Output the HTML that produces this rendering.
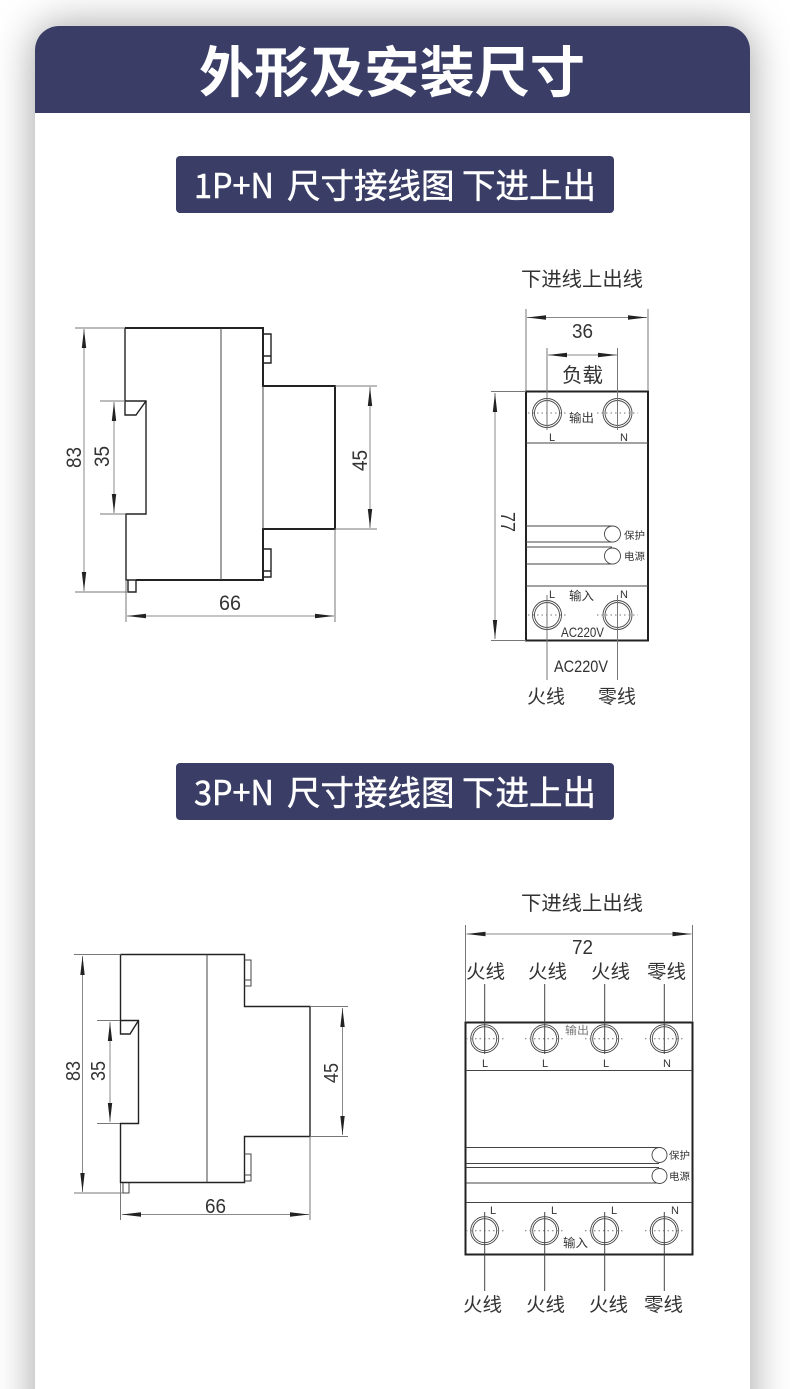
<!DOCTYPE html>
<html>
<head>
<meta charset="utf-8">
<style>
html,body{margin:0;padding:0;background:#fff;width:790px;height:1389px;overflow:hidden}
.wrap{position:absolute;left:0;top:0;width:790px;height:1389px;overflow:hidden;background:#fff}
.card{position:absolute;left:35px;top:26px;width:715px;height:1420px;background:#fff;border-radius:24px 24px 0 0;box-shadow:0 0 42px rgba(0,0,0,.38)}
svg{position:absolute;left:0;top:0}
text{font-family:"Liberation Sans","Noto Sans CJK SC",sans-serif;fill:#333}
.h{font-family:"Noto Sans CJK SC",sans-serif;fill:#fff}
.s{stroke:#fff;stroke-width:.5}
.k{stroke:#222;stroke-width:1.4;fill:none}
.b{stroke:#222;stroke-width:2;fill:none}
.t{stroke:#444;stroke-width:1;fill:none}
.g{stroke:#777;stroke-width:1;fill:none}
.d{stroke:#888;stroke-width:1;fill:none;marker-start:url(#a);marker-end:url(#a)}
.c{stroke:#444;stroke-width:.9;fill:#fff}
.p{stroke:#777;stroke-width:1;stroke-dasharray:1.5 3;fill:none}
</style>
</head>
<body>
<div class="wrap">
<div class="card"></div>
<svg width="790" height="1389" viewBox="0 0 790 1389" xmlns="http://www.w3.org/2000/svg">
<defs>
<marker id="a" markerUnits="userSpaceOnUse" markerWidth="20" markerHeight="6" refX="19" refY="3" orient="auto-start-reverse">
<path d="M19 3L0 .8V5.200Z" fill="#222"/>
</marker>
</defs>

<!-- Header -->
<path d="M35 113V50a24 24 0 0 1 24-24H726a24 24 0 0 1 24 24V113Z" fill="#3a3e66"/>
<text class="h" x="199" y="92" font-size="55" font-weight="700" textLength="386" lengthAdjust="spacingAndGlyphs">外形及安装尺寸</text>

<rect x="176" y="156" width="438" height="57" rx="4" fill="#3a3e66"/>
<text class="h s" x="194" y="198" font-size="34" textLength="80" lengthAdjust="spacingAndGlyphs">1P+N</text>
<text class="h s" x="287" y="198" font-size="34" textLength="309" lengthAdjust="spacingAndGlyphs">尺寸接线图 下进上出</text>

<rect x="176" y="763" width="438" height="57" rx="4" fill="#3a3e66"/>
<text class="h s" x="194" y="805" font-size="34" textLength="80" lengthAdjust="spacingAndGlyphs">3P+N</text>
<text class="h s" x="287" y="805" font-size="34" textLength="309" lengthAdjust="spacingAndGlyphs">尺寸接线图 下进上出</text>

<!-- 1P side view -->
<g>
<path class="b" d="M125 328H263V386H335V529H263V580H136"/>
<path class="k" d="M125 328V401H146V514H126V580H136M125 401V415H136L146 401"/>
<path class="t" d="M221 328V580M263 386V529"/>
<path class="k" d="M263 334H271V363H263M263 356H271M263 549H271V577H263M263 571H271M128 580V592H136V580"/>
<path class="g" d="M75 328H125M75 592H128M100 401H125M100 514H125M335 386H377M335 529H377M126 580V622M335 529V622"/>
<path class="d" d="M84 329V591"/>
<path class="d" d="M114 402V513"/>
<path class="d" d="M370 387V528"/>
<path class="d" d="M127 616H334"/>
<text font-size="21" transform="translate(81 468) rotate(-90)" textLength="21" lengthAdjust="spacingAndGlyphs">83</text>
<text font-size="21" transform="translate(109 467) rotate(-90)" textLength="21" lengthAdjust="spacingAndGlyphs">35</text>
<text font-size="21" transform="translate(367 471) rotate(-90)" textLength="21" lengthAdjust="spacingAndGlyphs">45</text>
<text x="219" y="610" font-size="21" textLength="22" lengthAdjust="spacingAndGlyphs">66</text>
</g>

<!-- 1P front view -->
<g>
<text x="521" y="286" font-size="20" textLength="122" lengthAdjust="spacingAndGlyphs">下进线上出线</text>
<rect class="b" x="526" y="391.500" width="122" height="249"/>
<path class="t" d="M526 443H648M526 586H648"/>
<path class="t" d="M526 526H612M526 542H612M526 547H612M526 564H612"/>
<circle class="c" cx="612.500" cy="534" r="8"/>
<circle class="c" cx="612.500" cy="556" r="8"/>
<path class="g" d="M526 309V391M648 309V391M491 391.500H526M491 640.500H526"/>
<path class="d" d="M527 317.500H647"/>
<path class="d" d="M548 355H617"/>
<path class="d" d="M495 393V639"/>
<circle class="c" cx="547" cy="413" r="14.500"/><circle class="c" cx="547" cy="413" r="12.500"/>
<circle class="c" cx="617.500" cy="413" r="14.500"/><circle class="c" cx="617.500" cy="413" r="12.500"/>
<circle class="c" cx="547" cy="615" r="14.500"/><circle class="c" cx="547" cy="615" r="12.500"/>
<circle class="c" cx="617.500" cy="615" r="14.500"/><circle class="c" cx="617.500" cy="615" r="12.500"/>
<path class="p" d="M528 413H568M597 413H638M528 615H568M597 615H638"/>
<path class="g" d="M547 348V430M617.500 348V430M547 595V680M617.500 595V680"/>
<text x="572" y="338" font-size="20" textLength="21" lengthAdjust="spacingAndGlyphs">36</text>
<text x="562" y="382" font-size="20" textLength="41" lengthAdjust="spacingAndGlyphs">负载</text>
<text x="569" y="422" font-size="12" textLength="25" lengthAdjust="spacingAndGlyphs">输出</text>
<text x="549" y="441" font-size="11">L</text>
<text x="620" y="441" font-size="11">N</text>
<text x="624" y="539" font-size="10" textLength="21" lengthAdjust="spacingAndGlyphs">保护</text>
<text x="624" y="560" font-size="10" textLength="21" lengthAdjust="spacingAndGlyphs">电源</text>
<text x="569" y="600" font-size="12" textLength="25" lengthAdjust="spacingAndGlyphs">输入</text>
<text x="549" y="598" font-size="11">L</text>
<text x="620" y="598" font-size="11">N</text>
<text x="561" y="637" font-size="14" textLength="43" lengthAdjust="spacingAndGlyphs">AC220V</text>
<text x="554" y="672" font-size="17" textLength="54" lengthAdjust="spacingAndGlyphs">AC220V</text>
<text x="527" y="703" font-size="19" textLength="38" lengthAdjust="spacingAndGlyphs">火线</text>
<text x="598" y="703" font-size="19" textLength="38" lengthAdjust="spacingAndGlyphs">零线</text>
<text font-size="20" transform="translate(501 512) rotate(90)" textLength="20" lengthAdjust="spacingAndGlyphs">77</text>
</g>

<!-- 3P side view -->
<g>
<path class="k" d="M120.500 954.500H244.500V1006.500H310V1136.500H244.500V1182.500H129"/>
<path class="k" d="M120.500 954.500V1020.500H138.500V1123.500H120.500V1182.500H129M120.500 1020.500V1034H130L138.500 1020.500"/>
<path class="t" d="M207 954.500V1182.500"/>
<path class="t" d="M244.500 960H251V986H244.500M244.500 980H251M244.500 1154H251V1181H244.500M244.500 1175H251M123 1183V1193H129V1183"/>
<path class="g" d="M74 954.500H120M74 1193H123M97 1020.500H120M97 1123.500H120M310 1006.500H348M310 1136.500H348M120.500 1183V1220M310 1136.500V1220"/>
<path class="d" d="M82.500 956V1192"/>
<path class="d" d="M110 1022V1122"/>
<path class="d" d="M342.500 1008V1135"/>
<path class="d" d="M122 1214.500H309"/>
<text font-size="20" transform="translate(80 1081) rotate(-90)" textLength="20" lengthAdjust="spacingAndGlyphs">83</text>
<text font-size="20" transform="translate(105 1081) rotate(-90)" textLength="20" lengthAdjust="spacingAndGlyphs">35</text>
<text font-size="20" transform="translate(338 1083) rotate(-90)" textLength="20" lengthAdjust="spacingAndGlyphs">45</text>
<text x="205" y="1213" font-size="20" textLength="21" lengthAdjust="spacingAndGlyphs">66</text>
</g>

<!-- 3P front view -->
<g>
<text x="521" y="910" font-size="20" textLength="122" lengthAdjust="spacingAndGlyphs">下进线上出线</text>
<rect class="b" x="465.500" y="1022.500" width="227" height="232"/>
<path class="t" d="M466 1070.500H692M466 1202.500H692"/>
<path class="t" d="M466 1147.500H659M466 1163.500H659M466 1167.500H659M466 1183H659"/>
<circle class="c" cx="659.500" cy="1155" r="7.500"/>
<circle class="c" cx="659.500" cy="1176" r="7.500"/>
<path class="g" d="M465.500 925V1022M692.500 925V1022"/>
<path class="d" d="M466.500 934H691.500"/>

<g>
<circle class="c" cx="484.700" cy="1038.700" r="14"/><circle class="c" cx="484.700" cy="1038.700" r="12"/>
<circle class="c" cx="544.700" cy="1038.700" r="14"/><circle class="c" cx="544.700" cy="1038.700" r="12"/>
<circle class="c" cx="604.700" cy="1038.700" r="14"/><circle class="c" cx="604.700" cy="1038.700" r="12"/>
<circle class="c" cx="664.300" cy="1038.700" r="14"/><circle class="c" cx="664.300" cy="1038.700" r="12"/>
<circle class="c" cx="484.700" cy="1230.700" r="14"/><circle class="c" cx="484.700" cy="1230.700" r="12"/>
<circle class="c" cx="544.700" cy="1230.700" r="14"/><circle class="c" cx="544.700" cy="1230.700" r="12"/>
<circle class="c" cx="604.700" cy="1230.700" r="14"/><circle class="c" cx="604.700" cy="1230.700" r="12"/>
<circle class="c" cx="664.300" cy="1230.700" r="14"/><circle class="c" cx="664.300" cy="1230.700" r="12"/>
</g>
<path class="p" d="M466 1038.700H505M525 1038.700H565M585 1038.700H625M645 1038.700H685M466 1230.700H505M525 1230.700H565M585 1230.700H625M645 1230.700H685"/>
<path class="t" d="M484.700 984V1054M544.700 984V1054M604.700 984V1054M664.300 984V1054M484.700 1212V1291M544.700 1212V1291M604.700 1212V1291M664.300 1212V1291"/>

<text x="572" y="954" font-size="20" textLength="21" lengthAdjust="spacingAndGlyphs">72</text>
<text x="466" y="978" font-size="19" textLength="39" lengthAdjust="spacingAndGlyphs">火线</text>
<text x="528" y="978" font-size="19" textLength="39" lengthAdjust="spacingAndGlyphs">火线</text>
<text x="591" y="978" font-size="19" textLength="39" lengthAdjust="spacingAndGlyphs">火线</text>
<text x="647" y="978" font-size="19" textLength="39" lengthAdjust="spacingAndGlyphs">零线</text>
<text x="565" y="1034" font-size="11" textLength="24" lengthAdjust="spacingAndGlyphs" style="fill:#777">输出</text>
<text x="482" y="1067" font-size="11">L</text>
<text x="542" y="1067" font-size="11">L</text>
<text x="603" y="1067" font-size="11">L</text>
<text x="663" y="1067" font-size="11">N</text>
<text x="669" y="1159" font-size="10" textLength="21" lengthAdjust="spacingAndGlyphs">保护</text>
<text x="669" y="1180" font-size="10" textLength="21" lengthAdjust="spacingAndGlyphs">电源</text>
<text x="490" y="1214" font-size="11">L</text>
<text x="551" y="1214" font-size="11">L</text>
<text x="611" y="1214" font-size="11">L</text>
<text x="671" y="1214" font-size="11">N</text>
<text x="563" y="1247" font-size="12" textLength="25" lengthAdjust="spacingAndGlyphs">输入</text>
<text x="463" y="1311" font-size="19" textLength="39" lengthAdjust="spacingAndGlyphs">火线</text>
<text x="526" y="1311" font-size="19" textLength="39" lengthAdjust="spacingAndGlyphs">火线</text>
<text x="589" y="1311" font-size="19" textLength="39" lengthAdjust="spacingAndGlyphs">火线</text>
<text x="644" y="1311" font-size="19" textLength="39" lengthAdjust="spacingAndGlyphs">零线</text>
</g>
</svg>
</div>
</body>
</html>
